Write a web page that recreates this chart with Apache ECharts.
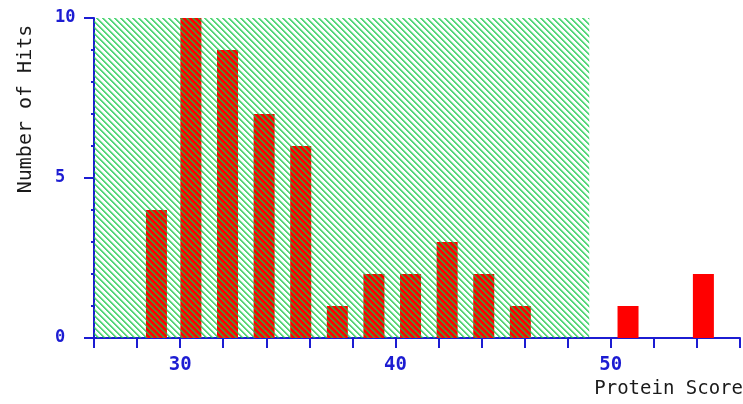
<!DOCTYPE html>
<html>
<head>
<meta charset="utf-8">
<script src="https://cdn.jsdelivr.net/npm/echarts@6/dist/echarts.min.js"></script>
<style>
html,body{margin:0;padding:0;background:#fff;}
#c{width:743px;height:404px;}
</style>
</head>
<body>
<div id="c"></div>
<script>
// ---- data ----
const scores = [28.9, 30.5, 32.2, 33.9, 35.6, 37.3, 39.0, 40.7, 42.4, 44.1, 45.8, 50.8, 54.3];
const hits   = [4, 10, 9, 7, 6, 1, 2, 2, 3, 2, 1, 1, 2];
const threshold = 49;
const xMin = 26, xMax = 56, xStep = 2;
const xTickLabels = [30, 40, 50];
const yMin = 0, yMax = 10, yStep = 5;
const yTickLabels = [0, 5, 10];
const xName = 'Protein Score';
const yName = 'Number of Hits';

// hatch pattern
const P = 6;
const tile = document.createElement('canvas');
tile.width = P; tile.height = P;
const tctx = tile.getContext('2d');
for (let y = 0; y < P; y++) {
  for (let x = 0; x < P; x++) {
    const d = ((x - y) % P + P) % P;
    if (d < 2) { tctx.fillStyle = 'rgba(20,200,70,0.72)'; tctx.fillRect(x, y, 1, 1); }
    else if (d === 2) { tctx.fillStyle = 'rgba(20,200,70,0.3)'; tctx.fillRect(x, y, 1, 1); }
  }
}

const blue = '#1c1cd2';
const chart = echarts.init(document.getElementById('c'), null, {renderer: 'canvas'});
chart.setOption({
  animation: false,
  backgroundColor: '#ffffff',
  grid: {left: 94, top: 18, width: 651, height: 320, containLabel: false},
  xAxis: {
    type: 'value', min: xMin, max: xMax, interval: xStep,
    axisLine: {show: true, onZero: false, lineStyle: {color: blue, width: 2}},
    axisTick: {show: true, length: 10, lineStyle: {color: blue, width: 2}},
    splitLine: {show: false},
    axisLabel: {
      margin: 18, color: blue,
      fontFamily: 'DejaVu Sans Mono', fontWeight: 'bold', fontSize: 19,
      formatter: v => xTickLabels.indexOf(v) >= 0 ? String(v) : ''
    }
  },
  yAxis: {
    type: 'value', min: yMin, max: yMax, interval: yStep,
    axisLine: {show: true, lineStyle: {color: blue, width: 2}},
    axisTick: {show: true, length: 10, lineStyle: {color: blue, width: 2}},
    minorTick: {show: true, splitNumber: 5, length: 3, lineStyle: {color: blue, width: 2}},
    splitLine: {show: false},
    axisLabel: {
      margin: 39, align: 'left', color: blue,
      fontFamily: 'DejaVu Sans Mono', fontWeight: 'bold', fontSize: 17,
      formatter: v => yTickLabels.indexOf(v) >= 0 ? String(v) : ''
    }
  },
  series: [{
    type: 'bar',
    data: scores.map((s, i) => [s, hits[i]]),
    barWidth: 21,
    itemStyle: {color: '#ff0000'},
    silent: true,
    markArea: {
      silent: true,
      z: 5,
      itemStyle: {color: {image: tile, repeat: 'repeat'}},
      data: [[{xAxis: xMin, yAxis: yMin}, {xAxis: threshold, yAxis: yMax}]]
    }
  }],
  graphic: [
    {type: 'text', x: 26, y: 109, rotation: Math.PI / 2,
     style: {text: yName, font: '20px "DejaVu Sans Mono"', fill: '#1a1a1a', align: 'center', verticalAlign: 'middle'}},
    {type: 'text', x: 743, y: 389,
     style: {text: xName, font: '19px "DejaVu Sans Mono"', fill: '#1a1a1a', align: 'right', verticalAlign: 'middle'}}
  ]
});
</script>
</body>
</html>
